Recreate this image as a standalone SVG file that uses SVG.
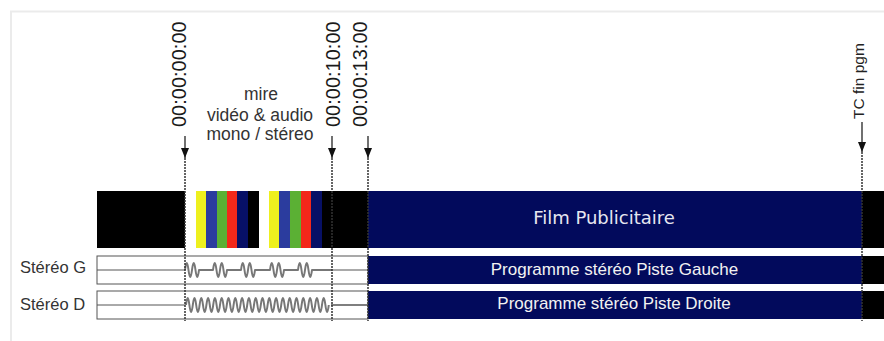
<svg xmlns="http://www.w3.org/2000/svg" width="884" height="341" viewBox="0 0 884 341">
  <defs>
    <marker id="arrow" viewBox="0 0 10 8" refX="10" refY="4" markerWidth="10" markerHeight="8" markerUnits="userSpaceOnUse" orient="auto">
      <path d="M0,0 L10,4 L0,8 Z" fill="#111"/>
    </marker>
    <style>
      .frame { stroke: #ebebeb; stroke-width: 2; fill: none; }
      .tc { font-family: "Liberation Sans", Arial, sans-serif; font-size: 20px; fill: #1a1a1a; }
      .tcsmall { font-family: "Liberation Sans", Arial, sans-serif; font-size: 15.5px; fill: #222; }
      .note { font-family: "Liberation Sans", Arial, sans-serif; font-size: 17.5px; fill: #333; text-anchor: middle; }
      .label { font-family: "Liberation Sans", Arial, sans-serif; font-size: 16.5px; fill: #333; }
      .track { font-family: "Liberation Sans", Arial, sans-serif; font-size: 17px; fill: #f2f2f2; text-anchor: middle; }
      .title { font-family: "DejaVu Sans", Verdana, sans-serif; font-size: 18px; fill: #e6e6f0; text-anchor: middle; }
      .navy { fill: #020a5c; }
      .blk { fill: #000; }
      .box { fill: #fff; stroke: #555; stroke-width: 1; }
      .mid { stroke: #555; stroke-width: 1; fill: none; }
      .wave { stroke: #777; stroke-width: 2; fill: none; stroke-linejoin: round; }
      .arrowline { stroke: #111; stroke-width: 1.2; fill: none; }
      .dots { stroke: #333; stroke-width: 1.5; fill: none; stroke-dasharray: 2 1; }
    </style>
  </defs>

  <rect width="884" height="341" fill="#fff"/>
  <path class="frame" d="M11,341 V11.5 H884"/>

  <!-- video track -->
  <g id="video-track">
    <rect class="blk" x="97" y="191" width="88" height="57"/>
    <rect fill="#ffffff" x="185" y="191" width="11" height="57"/>
    <rect fill="#eef01e" x="196" y="191" width="10" height="57"/>
    <rect fill="#2b3c9e" x="206" y="191" width="11" height="57"/>
    <rect fill="#5bb034" x="217" y="191" width="10" height="57"/>
    <rect fill="#f3281a" x="227" y="191" width="10" height="57"/>
    <rect fill="#071066" x="237" y="191" width="11" height="57"/>
    <rect class="blk" x="248" y="191" width="11" height="57"/>
    <rect fill="#ffffff" x="259" y="191" width="10" height="57"/>
    <rect fill="#eef01e" x="269" y="191" width="10" height="57"/>
    <rect fill="#2b3c9e" x="279" y="191" width="11" height="57"/>
    <rect fill="#5bb034" x="290" y="191" width="11" height="57"/>
    <rect fill="#f3281a" x="301" y="191" width="10" height="57"/>
    <rect fill="#071066" x="311" y="191" width="11" height="57"/>
    <rect class="blk" x="322" y="191" width="46" height="57"/>
    <rect class="navy" x="368" y="191" width="494" height="57"/>
    <rect class="blk" x="862" y="191" width="22" height="57"/>
    <text class="title" x="604" y="224">Film Publicitaire</text>
  </g>

  <!-- left audio track -->
  <g id="stereo-g">
    <text class="label" x="20" y="273">Stéréo G</text>
    <rect class="box" x="97" y="256" width="271" height="28"/>
    <path class="mid" d="M97,270 H185 M332,270 H368"/>
    <path class="wave" d="M185,270 q1.75,-14 3.5,0 t3.5,0 t3.5,0 t3.5,0 L213,270 q1.75,-14 3.5,0 t3.5,0 t3.5,0 t3.5,0 L241,270 q1.75,-14 3.5,0 t3.5,0 t3.5,0 t3.5,0 L270,270 q1.75,-14 3.5,0 t3.5,0 t3.5,0 t3.5,0 L298,270 q1.75,-14 3.5,0 t3.5,0 t3.5,0 t3.5,0 L332,270"/>
    <rect class="navy" x="368" y="256" width="494" height="28"/>
    <rect class="blk" x="862" y="256" width="22" height="28"/>
    <text class="track" x="614.5" y="275">Programme stéréo Piste Gauche</text>
  </g>

  <!-- right audio track -->
  <g id="stereo-d">
    <text class="label" x="20" y="310">Stéréo D</text>
    <rect class="box" x="97" y="291" width="271" height="28"/>
    <path class="mid" d="M97,305 H185"/>
    <path class="wave" d="M186,305 q1.7,-14 3.4,0 t3.4,0 t3.4,0 t3.4,0 t3.4,0 t3.4,0 t3.4,0 t3.4,0 t3.4,0 t3.4,0 t3.4,0 t3.4,0 t3.4,0 t3.4,0 t3.4,0 t3.4,0 t3.4,0 t3.4,0 t3.4,0 t3.4,0 t3.4,0 t3.4,0 t3.4,0 t3.4,0 t3.4,0 t3.4,0 t3.4,0 t3.4,0 t3.4,0 t3.4,0 t3.4,0 t3.4,0 t3.4,0 t3.4,0 t3.4,0 t3.4,0 t3.4,0 t3.4,0 t3.4,0 t3.4,0 t3.4,0 t3.4,0"/>
    <path d="M331,305 H368" stroke="#555" stroke-width="1.6" fill="none"/>
    <rect class="navy" x="368" y="291" width="494" height="28"/>
    <rect class="blk" x="862" y="291" width="22" height="28"/>
    <text class="track" x="614" y="309">Programme stéréo Piste Droite</text>
  </g>

  <!-- timecode labels -->
  <g id="tc-start">
    <text class="tc" transform="translate(186,127) rotate(-90)">00:00:00:00</text>
  </g>
  <g id="tc-10">
    <text class="tc" transform="translate(340,127) rotate(-90)">00:00:10:00</text>
  </g>
  <g id="tc-13">
    <text class="tc" transform="translate(367,127) rotate(-90)">00:00:13:00</text>
  </g>
  <g id="tc-end">
    <text class="tcsmall" transform="translate(864,119) rotate(-90)">TC fin pgm</text>
  </g>
  <g id="mire-note">
    <text class="note" x="261" y="100">mire</text>
    <text class="note" x="260" y="121">vidéo &amp; audio</text>
    <text class="note" x="260" y="140">mono / stéreo</text>
  </g>

  <!-- markers -->
  <g id="connectors">
    <path class="arrowline" d="M185,136 V158" marker-end="url(#arrow)"/>
    <path class="arrowline" d="M332,136 V158" marker-end="url(#arrow)"/>
    <path class="arrowline" d="M368,136 V158" marker-end="url(#arrow)"/>
    <path class="arrowline" d="M862,122 V152" marker-end="url(#arrow)"/>
    <path class="dots" d="M185,158 V321"/>
    <path class="dots" d="M332,158 V321"/>
    <path class="dots" d="M368,158 V321"/>
    <path class="dots" d="M862,152 V321"/>
  </g>
</svg>
